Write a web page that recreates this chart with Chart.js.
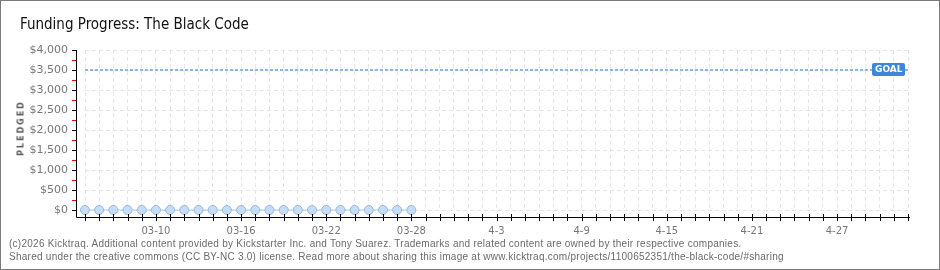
<!DOCTYPE html>
<html>
<head>
<meta charset="utf-8">
<script src="https://cdn.jsdelivr.net/npm/chart.js@4"></script>
<style>
    body { margin: 0; background: #fff; }
    #wrap { position: relative; width: 940px; height: 270px; box-sizing: border-box; border: 1px solid #7a7a7a; overflow: hidden; }
    #chart { position: absolute; left: -1px; top: -1px; }
    #title { position: absolute; left: 19px; top: 14px; font: 15px "DejaVu Sans Condensed", "DejaVu Sans", sans-serif; color: #111; }
    #ylabel { position: absolute; left: 20px; top: 127px; transform: translate(-50%, -50%) rotate(-90deg); font: bold 8px "DejaVu Sans", sans-serif; letter-spacing: 2px; color: #555; white-space: nowrap; }
    .foot { position: absolute; left: 8px; font: 10px "Liberation Sans", Arial, sans-serif; color: #6a6a6a; white-space: nowrap; letter-spacing: 0.26px; }
</style>
</head>
<body>
<div id="wrap">
    <canvas id="chart" width="940" height="270"></canvas>
    <div id="title">Funding Progress: The Black Code</div>
    <div id="ylabel">PLEDGED</div>
    <div class="foot" style="top:237px">(c)2026 Kicktraq. Additional content provided by Kickstarter Inc. and Tony Suarez. Trademarks and related content are owned by their respective companies.</div>
    <div class="foot" style="top:250px">Shared under the creative commons (CC BY-NC 3.0) license. Read more about sharing this image at www.kicktraq.com/projects/1100652351/the-black-code/#sharing</div>
</div>
<script>
// days of the campaign window
const days = [
    '03-05', '03-06', '03-07', '03-08', '03-09', '03-10', '03-11', '03-12', '03-13', '03-14',
    '03-15', '03-16', '03-17', '03-18', '03-19', '03-20', '03-21', '03-22', '03-23', '03-24',
    '03-25', '03-26', '03-27', '03-28', '03-29', '03-30', '03-31', '04-01', '04-02', '04-03',
    '04-04', '04-05', '04-06', '04-07', '04-08', '04-09', '04-10', '04-11', '04-12', '04-13',
    '04-14', '04-15', '04-16', '04-17', '04-18', '04-19', '04-20', '04-21', '04-22', '04-23',
    '04-24', '04-25', '04-26', '04-27', '04-28', '04-29', '04-30', '05-01', '05-02'
];
const tickLabels = ['03-10', '03-16', '03-22', '03-28', '4-3', '4-9', '4-15', '4-21', '4-27'];
const pledged = [0, 0, 0, 0, 0, 0, 0, 0, 0, 0, 0, 0, 0, 0, 0, 0, 0, 0, 0, 0, 0, 0, 0, 0];
const goal = 3500;
const yMax = 4000;
const yStep = 500;

const goalLine = days.map(() => goal);

// axis lines, tick marks and the GOAL tag
const kicktraqAxes = {
    id: 'kicktraqAxes',
    afterDraw(chart) {
        const ctx = chart.ctx;
        const x = chart.scales.x, y = chart.scales.y;
        const axisX = chart.chartArea.left - 9;
        const axisY = chart.chartArea.bottom + 7;
        ctx.save();
        ctx.strokeStyle = '#000';
        ctx.lineWidth = 1;
        ctx.beginPath();
        ctx.moveTo(axisX + 0.5, y.getPixelForValue(yMax));
        ctx.lineTo(axisX + 0.5, axisY + 0.5);
        ctx.lineTo(chart.chartArea.right + 2, axisY + 0.5);
        ctx.stroke();
        for (let v = 0; v <= yMax; v += yStep / 2) {
            const py = Math.round(y.getPixelForValue(v)) + 0.5;
            ctx.strokeStyle = v % yStep === 0 ? '#000' : '#e00';
            ctx.beginPath();
            ctx.moveTo(axisX - 4, py);
            ctx.lineTo(axisX, py);
            ctx.stroke();
        }
        ctx.strokeStyle = '#000';
        days.forEach((d, i) => {
            const px = Math.round(x.getPixelForValue(i)) + 0.5;
            ctx.beginPath();
            ctx.moveTo(px, axisY - 3);
            ctx.lineTo(px, axisY + 4);
            ctx.stroke();
        });
        // goal tag
        const gy = y.getPixelForValue(goal);
        const gx = x.getPixelForValue(days.length - 1) - 36;
        ctx.fillStyle = '#3b87d9';
        ctx.beginPath();
        ctx.roundRect(gx, gy - 7, 33, 13, 2);
        ctx.fill();
        ctx.fillStyle = '#fff';
        ctx.font = 'bold 9px "DejaVu Sans", sans-serif';
        ctx.textBaseline = 'middle';
        ctx.fillText('GOAL', gx + 3, gy);
        ctx.restore();
    }
};

new Chart(document.getElementById('chart').getContext('2d'), {
    type: 'line',
    data: {
        labels: days,
        datasets: [{
            label: 'Pledged',
            data: pledged,
            clip: false,
            borderColor: '#a9c9ef',
            borderWidth: 1,
            backgroundColor: '#c6ddf7',
            pointBackgroundColor: '#c6ddf7',
            pointBorderColor: '#98b8de',
            pointBorderWidth: 1,
            pointRadius: 4.5,
            tension: 0
        }, {
            label: 'Goal',
            data: goalLine,
            borderColor: '#8db5e4',
            borderWidth: 2,
            borderDash: [3, 2],
            pointRadius: 0,
            tension: 0
        }]
    },
    options: {
        responsive: false,
        devicePixelRatio: 1,
        animation: false,
        layout: { padding: { left: 0, right: 32, top: 50, bottom: 0 } },
        plugins: { legend: { display: false }, tooltip: { enabled: false } },
        scales: {
            x: {
                offset: false,
                afterFit(scale) { scale.height = 60; },
                border: { display: false, dash: [4, 3] },
                grid: { color: '#e6e6e6', drawTicks: false },
                ticks: {
                    autoSkip: false,
                    maxRotation: 0,
                    padding: 15,
                    color: '#777',
                    font: { family: 'DejaVu Sans', size: 10 },
                    callback: (v, i) => (i % 6 === 5 ? tickLabels[(i - 5) / 6] : '')
                }
            },
            y: {
                min: 0,
                max: yMax,
                afterFit(scale) { scale.width = 85; },
                border: { display: false, dash: [4, 3] },
                grid: { color: '#e6e6e6', drawTicks: false },
                ticks: {
                    stepSize: yStep,
                    padding: 17,
                    color: '#777',
                    font: { family: 'DejaVu Sans', size: 11 },
                    callback: v => '$' + v.toLocaleString('en-US')
                }
            }
        }
    },
    plugins: [kicktraqAxes]
});
</script>
</body>
</html>
